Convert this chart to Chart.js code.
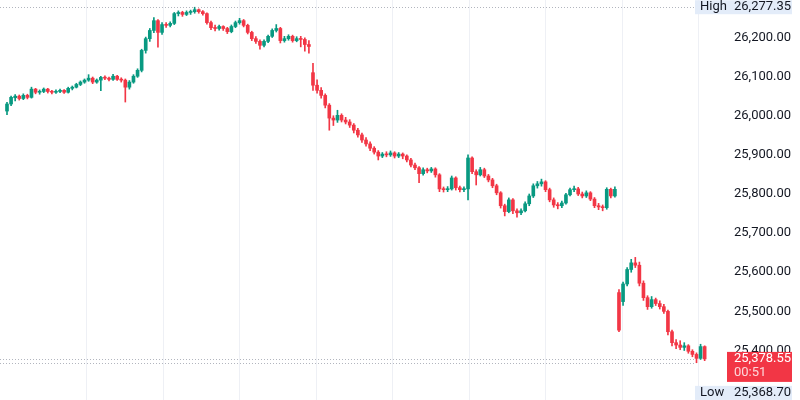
<!DOCTYPE html>
<html>
<head>
<meta charset="utf-8">
<script src="https://cdn.jsdelivr.net/npm/chart.js@4.4.1/dist/chart.umd.min.js"></script>
<style>
  html, body { margin: 0; padding: 0; background: #fff; }
  #wrap { width: 800px; height: 400px; }
</style>
</head>
<body>
<div id="wrap"><canvas id="myChart" width="800" height="400"></canvas></div>
<script>
// 5-minute candles, three sessions (75 + 75 + 22)
const opens = [
  26012,26030,26046,26050,26044,26052,26047,26068,26060,26062,
  26068,26062,26060,26062,26065,26060,26070,26073,26080,26086,
  26091,26096,26086,26091,26098,26096,26093,26101,26093,26091,
  26073,26086,26101,26116,26167,26197,26218,26243,26213,26233,
  26231,26236,26261,26264,26259,26264,26266,26271,26266,26261,
  26238,26225,26223,26228,26223,26215,26228,26238,26243,26231,
  26213,26197,26190,26180,26190,26203,26218,26223,26192,26197,
  26203,26192,26197,26195,26182,
  26110,26078,26065,26052,26027,25994,25989,26001,25989,25984,
  25976,25963,25951,25938,25928,25917,25907,25897,25902,25900,
  25905,25897,25902,25897,25887,25874,25867,25852,25862,25859,
  25864,25849,25813,25811,25813,25841,25816,25811,25813,25892,
  25857,25849,25862,25846,25836,25821,25803,25770,25755,25785,
  25757,25752,25757,25775,25795,25821,25826,25831,25811,25785,
  25772,25770,25777,25798,25811,25813,25800,25795,25803,25787,
  25770,25767,25765,25812,25795,
  25548,25525,25570,25607,25624,25618,25572,25535,25512,25530,
  25520,25512,25500,25448,25420,25414,25408,25412,25398,25390,
  25380,25410
];
const highs = [
  26034,26050,26054,26053,26056,26055,26073,26070,26066,26071,
  26070,26065,26066,26068,26067,26073,26076,26083,26089,26094,
  26105,26099,26094,26101,26102,26099,26106,26103,26097,26094,
  26090,26105,26120,26170,26201,26223,26251,26246,26238,26238,
  26240,26264,26268,26267,26268,26270,26277.35,26273,26269,26263,
  26242,26232,26232,26230,26226,26232,26242,26249,26246,26234,
  26216,26202,26194,26194,26206,26222,26233,26226,26203,26207,
  26206,26202,26203,26199,26192,
  26134,26092,26072,26056,26031,26000,26014,26005,25996,25990,
  25980,25968,25956,25944,25933,25921,25911,25906,25908,25910,
  25908,25906,25905,25900,25891,25879,25870,25867,25866,25868,
  25867,25852,25818,25819,25846,25844,25820,25818,25900,25895,
  25862,25868,25866,25850,25840,25825,25806,25774,25790,25788,
  25762,25762,25780,25800,25826,25832,25838,25834,25815,25790,
  25778,25782,25802,25815,25820,25817,25805,25808,25806,25791,
  25776,25772,25816,25815,25818,
  25556,25575,25612,25633,25638,25626,25578,25540,25538,25534,
  25527,25518,25503,25452,25428,25425,25420,25415,25402,25394,
  25416,25412
];
const lows = [
  26003,26026,26038,26040,26041,26043,26045,26056,26055,26059,
  26058,26056,26057,26059,26057,26058,26066,26071,26077,26083,
  26088,26082,26083,26064,26092,26089,26090,26090,26086,26035,
  26068,26083,26098,26112,26160,26190,26212,26175,26208,26226,
  26227,26233,26255,26254,26256,26259,26262,26262,26257,26234,
  26220,26217,26219,26218,26210,26212,26225,26234,26227,26209,
  26192,26185,26170,26176,26187,26200,26214,26186,26188,26193,
  26188,26189,26176,26165,26160,
  26065,26058,26045,26020,25963,25975,25983,25984,25979,25970,
  25956,25945,25932,25922,25911,25902,25887,25893,25895,25896,
  25892,25893,25890,25882,25869,25862,25829,25848,25854,25855,
  25843,25806,25805,25806,25810,25810,25805,25806,25785,25852,
  25823,25846,25842,25831,25816,25798,25764,25744,25752,25750,
  25741,25747,25754,25770,25791,25815,25820,25806,25780,25766,
  25762,25765,25774,25795,25806,25796,25790,25791,25783,25765,
  25760,25757,25761,25790,25792,
  25448,25515,25565,25600,25612,25565,25528,25505,25508,25515,
  25506,25495,25440,25412,25405,25402,25400,25393,25384,25368.7,
  25377,25374
];
const closes = [
  26030,26047,26050,26044,26052,26047,26068,26060,26062,26068,
  26062,26060,26062,26065,26060,26070,26073,26080,26086,26091,
  26096,26086,26091,26098,26096,26093,26101,26093,26091,26073,
  26086,26101,26116,26167,26197,26218,26243,26213,26233,26231,
  26236,26261,26264,26259,26264,26266,26271,26266,26261,26238,
  26225,26223,26228,26223,26215,26228,26238,26243,26231,26213,
  26197,26190,26180,26190,26203,26218,26223,26192,26197,26203,
  26192,26197,26195,26182,26177,
  26078,26065,26052,26027,25994,25989,26001,25989,25984,25976,
  25963,25951,25938,25928,25917,25907,25897,25902,25900,25905,
  25897,25902,25897,25887,25874,25867,25852,25862,25859,25864,
  25849,25813,25811,25813,25841,25816,25811,25813,25892,25857,
  25849,25862,25846,25836,25821,25803,25770,25755,25785,25757,
  25752,25757,25775,25795,25821,25826,25831,25811,25785,25772,
  25770,25777,25798,25811,25813,25800,25795,25803,25787,25770,
  25767,25765,25812,25795,25812,
  25452,25570,25607,25624,25618,25572,25535,25512,25530,25520,
  25512,25500,25448,25420,25414,25408,25412,25398,25390,25380,
  25410,25378.55
];
const priceTicks = [25400, 25500, 25600, 25700, 25800, 25900, 26000, 26100, 26200];
const dayHigh = 26277.35;
const dayLow = 25368.70;
const lastPrice = 25378.55;
const countdown = "00:51";

const UP = "#089981";
const DOWN = "#f23645";
const FONT = "Roboto, 'Noto Sans', sans-serif";

const fmt = (v) =>
  v.toLocaleString("en-US", { minimumFractionDigits: 2, maximumFractionDigits: 2 });

const idx = closes.map((c, i) => i);
const colors = idx.map((i) => (closes[i] >= opens[i] ? UP : DOWN));

// vertical grid every 18.75 candles
const gridVals = [0, 1, 2, 3, 4, 5, 6, 7, 8].map((k) => 19.6 + 18.75 * k);

const overlay = {
  id: "overlay",
  afterDraw(chart) {
    const { ctx, chartArea, scales } = chart;
    const y = scales.y;
    ctx.save();

    // dotted level lines
    ctx.setLineDash([1, 2]);
    ctx.lineWidth = 1;
    ctx.strokeStyle = "#b2b5be";
    [dayHigh, lastPrice, dayLow].forEach((v) => {
      const py = Math.round(y.getPixelForValue(v)) + 0.5;
      ctx.beginPath();
      ctx.moveTo(0, py);
      ctx.lineTo(chartArea.right - 17, py);
      ctx.stroke();
    });
    ctx.setLineDash([]);

    ctx.font = "13px " + FONT;
    ctx.textBaseline = "middle";
    ctx.textAlign = "left";

    // High label
    const hy = y.getPixelForValue(dayHigh);
    ctx.fillStyle = "#e3ecf9";
    ctx.fillRect(695, hy - 7, 97, 14);
    ctx.fillStyle = "#131722";
    ctx.fillText("High", 700, hy);
    ctx.fillText(fmt(dayHigh), 734, hy);

    // last price label
    const ly = y.getPixelForValue(lastPrice);
    ctx.fillStyle = DOWN;
    ctx.fillRect(727, ly - 7, 65, 30);
    ctx.fillStyle = "#ffffff";
    ctx.fillText(fmt(lastPrice), 734, ly);
    ctx.fillStyle = "rgba(255,255,255,0.8)";
    ctx.fillText(countdown, 734, ly + 14);

    // Low label (pushed below the price label)
    const lowY = ly + 34;
    ctx.fillStyle = "#e3ecf9";
    ctx.fillRect(695, lowY - 7, 97, 14);
    ctx.fillStyle = "#131722";
    ctx.fillText("Low", 700, lowY);
    ctx.fillText(fmt(dayLow), 734, lowY);

    ctx.restore();
  },
};

new Chart(document.getElementById("myChart"), {
  type: "bar",
  data: {
    datasets: [
      {
        label: "wick",
        data: idx.map((i) => ({ x: i, y: [lows[i], highs[i]] })),
        backgroundColor: colors,
        barThickness: 1,
        grouped: false,
        order: 2,
      },
      {
        label: "body",
        data: idx.map((i) => ({ x: i, y: [opens[i], closes[i]] })),
        backgroundColor: colors,
        barThickness: 3,
        minBarLength: 1,
        grouped: false,
        order: 1,
      },
    ],
  },
  options: {
    responsive: false,
    animation: false,
    layout: { padding: 0 },
    plugins: { legend: { display: false }, tooltip: { enabled: false } },
    scales: {
      x: {
        type: "linear",
        min: -1.716,
        max: 172.8,
        offset: false,
        ticks: { display: false },
        grid: { color: "#eef0f5", drawTicks: false, offset: false },
        border: { display: false },
        afterBuildTicks: (s) => {
          s.ticks = gridVals.map((v) => ({ value: v }));
        },
        afterFit: (s) => {
          s.height = 0;
          s.paddingLeft = 0;
          s.paddingRight = 0;
        },
      },
      y: {
        position: "right",
        min: 25273.5,
        max: 26295.8,
        grid: { display: false, drawTicks: false },
        border: { display: false },
        afterBuildTicks: (s) => {
          s.ticks = priceTicks.map((v) => ({ value: v }));
        },
        afterFit: (s) => {
          s.width = 88;
          s.paddingTop = 0;
          s.paddingBottom = 0;
        },
        ticks: {
          padding: 22,
          color: "#131722",
          font: { family: FONT, size: 13 },
          callback: (v) => fmt(v),
        },
      },
    },
  },
  plugins: [overlay],
});
</script>
</body>
</html>
